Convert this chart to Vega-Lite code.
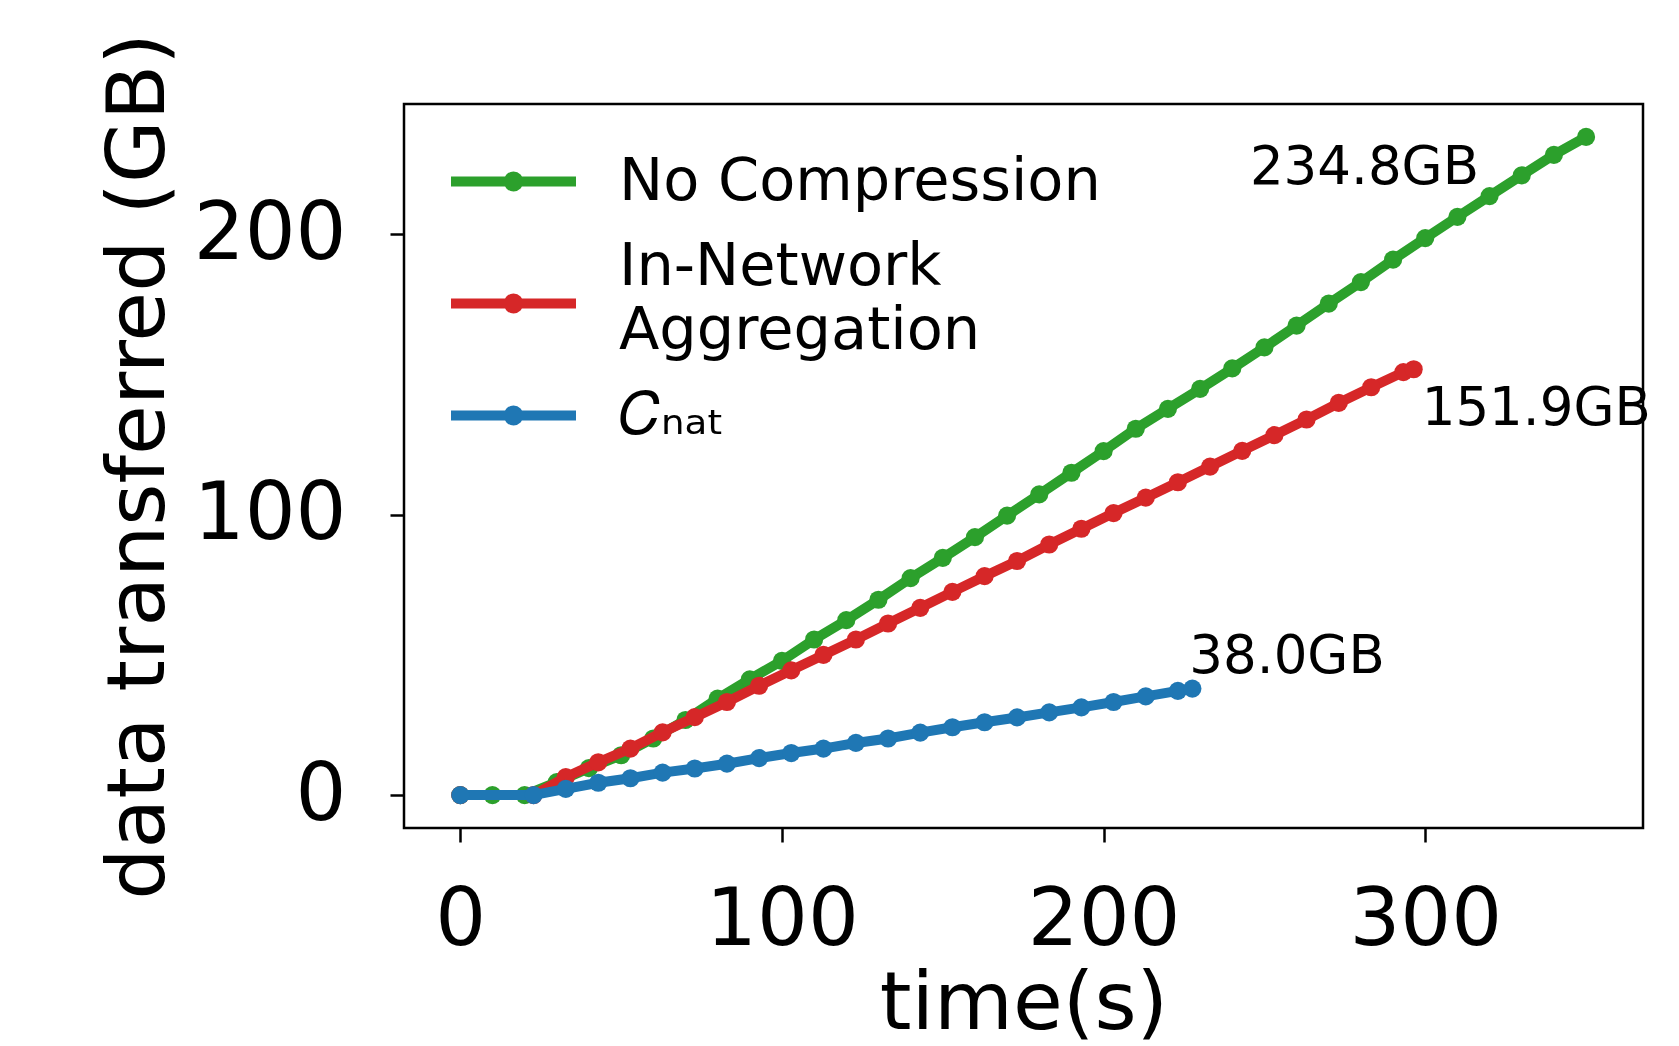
{
  "$schema": "https://vega.github.io/schema/vega-lite/v6.json",
  "width": 1239,
  "height": 724,
  "autosize": {"type": "none"},
  "padding": {"left": 404, "top": 104, "right": 36, "bottom": 218},
  "background": "white",
  "config": {
    "font": "DejaVu Sans",
    "view": {"stroke": "black", "strokeWidth": 2.5},
    "axis": {
      "grid": false,
      "domain": false,
      "tickColor": "black",
      "tickWidth": 2.5,
      "tickSize": 14,
      "labelFont": "DejaVu Sans",
      "labelFontSize": 80,
      "labelColor": "black",
      "labelPadding": 39,
      "titleFont": "DejaVu Sans",
      "titleFontSize": 81,
      "titleFontWeight": "normal",
      "titleColor": "black"
    }
  },
  "datasets": {
    "series": [
      {"series": "No Compression", "t": 0, "v": 0},
      {"series": "No Compression", "t": 10, "v": 0},
      {"series": "No Compression", "t": 20, "v": 0},
      {"series": "No Compression", "t": 30, "v": 4.6},
      {"series": "No Compression", "t": 40, "v": 9.6},
      {"series": "No Compression", "t": 50, "v": 14.2},
      {"series": "No Compression", "t": 60, "v": 20.2},
      {"series": "No Compression", "t": 70, "v": 26.8},
      {"series": "No Compression", "t": 80, "v": 34.4},
      {"series": "No Compression", "t": 90, "v": 41.3},
      {"series": "No Compression", "t": 100, "v": 47.9},
      {"series": "No Compression", "t": 110, "v": 55.5},
      {"series": "No Compression", "t": 120, "v": 62.4},
      {"series": "No Compression", "t": 130, "v": 69.7},
      {"series": "No Compression", "t": 140, "v": 77.4},
      {"series": "No Compression", "t": 150, "v": 84.6},
      {"series": "No Compression", "t": 160, "v": 92.0},
      {"series": "No Compression", "t": 170, "v": 99.7},
      {"series": "No Compression", "t": 180, "v": 107.3},
      {"series": "No Compression", "t": 190, "v": 115.0},
      {"series": "No Compression", "t": 200, "v": 122.7},
      {"series": "No Compression", "t": 210, "v": 130.7},
      {"series": "No Compression", "t": 220, "v": 137.8},
      {"series": "No Compression", "t": 230, "v": 144.9},
      {"series": "No Compression", "t": 240, "v": 152.2},
      {"series": "No Compression", "t": 250, "v": 159.7},
      {"series": "No Compression", "t": 260, "v": 167.5},
      {"series": "No Compression", "t": 270, "v": 175.3},
      {"series": "No Compression", "t": 280, "v": 183.0},
      {"series": "No Compression", "t": 290, "v": 191.0},
      {"series": "No Compression", "t": 300, "v": 198.7},
      {"series": "No Compression", "t": 310, "v": 206.3},
      {"series": "No Compression", "t": 320, "v": 213.7},
      {"series": "No Compression", "t": 330, "v": 221.1},
      {"series": "No Compression", "t": 340, "v": 228.4},
      {"series": "No Compression", "t": 350, "v": 234.8},
      {"series": "In-Network Aggregation", "t": 0, "v": 0},
      {"series": "In-Network Aggregation", "t": 22.8, "v": 0},
      {"series": "In-Network Aggregation", "t": 32.8, "v": 6.4},
      {"series": "In-Network Aggregation", "t": 42.9, "v": 11.7},
      {"series": "In-Network Aggregation", "t": 52.9, "v": 16.6},
      {"series": "In-Network Aggregation", "t": 62.9, "v": 22.4},
      {"series": "In-Network Aggregation", "t": 72.9, "v": 27.8},
      {"series": "In-Network Aggregation", "t": 82.9, "v": 33.2},
      {"series": "In-Network Aggregation", "t": 92.9, "v": 39.0},
      {"series": "In-Network Aggregation", "t": 102.9, "v": 44.5},
      {"series": "In-Network Aggregation", "t": 112.9, "v": 50.0},
      {"series": "In-Network Aggregation", "t": 123.0, "v": 55.5},
      {"series": "In-Network Aggregation", "t": 133.0, "v": 61.2},
      {"series": "In-Network Aggregation", "t": 143.0, "v": 66.8},
      {"series": "In-Network Aggregation", "t": 153.0, "v": 72.5},
      {"series": "In-Network Aggregation", "t": 163.0, "v": 78.1},
      {"series": "In-Network Aggregation", "t": 173.1, "v": 83.5},
      {"series": "In-Network Aggregation", "t": 183.1, "v": 89.4},
      {"series": "In-Network Aggregation", "t": 193.1, "v": 95.0},
      {"series": "In-Network Aggregation", "t": 203.1, "v": 100.6},
      {"series": "In-Network Aggregation", "t": 213.1, "v": 106.1},
      {"series": "In-Network Aggregation", "t": 223.1, "v": 111.6},
      {"series": "In-Network Aggregation", "t": 233.1, "v": 117.2},
      {"series": "In-Network Aggregation", "t": 243.1, "v": 122.8},
      {"series": "In-Network Aggregation", "t": 253.1, "v": 128.4},
      {"series": "In-Network Aggregation", "t": 263.1, "v": 134.0},
      {"series": "In-Network Aggregation", "t": 273.1, "v": 139.9},
      {"series": "In-Network Aggregation", "t": 283.2, "v": 145.5},
      {"series": "In-Network Aggregation", "t": 293.2, "v": 150.9},
      {"series": "In-Network Aggregation", "t": 296.4, "v": 151.9},
      {"series": "𝐶ₙₐₜ", "t": 0, "v": 0},
      {"series": "𝐶ₙₐₜ", "t": 22.8, "v": 0},
      {"series": "𝐶ₙₐₜ", "t": 32.8, "v": 2.2},
      {"series": "𝐶ₙₐₜ", "t": 42.9, "v": 4.4},
      {"series": "𝐶ₙₐₜ", "t": 52.9, "v": 6.0},
      {"series": "𝐶ₙₐₜ", "t": 62.9, "v": 8.0},
      {"series": "𝐶ₙₐₜ", "t": 72.9, "v": 9.5},
      {"series": "𝐶ₙₐₜ", "t": 82.9, "v": 11.2},
      {"series": "𝐶ₙₐₜ", "t": 92.9, "v": 13.2},
      {"series": "𝐶ₙₐₜ", "t": 102.9, "v": 15.0},
      {"series": "𝐶ₙₐₜ", "t": 112.9, "v": 16.6},
      {"series": "𝐶ₙₐₜ", "t": 123.0, "v": 18.6},
      {"series": "𝐶ₙₐₜ", "t": 133.0, "v": 20.2},
      {"series": "𝐶ₙₐₜ", "t": 143.0, "v": 22.3},
      {"series": "𝐶ₙₐₜ", "t": 153.0, "v": 24.2},
      {"series": "𝐶ₙₐₜ", "t": 163.0, "v": 26.0},
      {"series": "𝐶ₙₐₜ", "t": 173.1, "v": 27.7},
      {"series": "𝐶ₙₐₜ", "t": 183.1, "v": 29.5},
      {"series": "𝐶ₙₐₜ", "t": 193.1, "v": 31.3},
      {"series": "𝐶ₙₐₜ", "t": 203.1, "v": 33.2},
      {"series": "𝐶ₙₐₜ", "t": 213.1, "v": 35.2},
      {"series": "𝐶ₙₐₜ", "t": 223.1, "v": 37.2},
      {"series": "𝐶ₙₐₜ", "t": 227.6, "v": 38.0}
    ],
    "ends": [
      {"series": "No Compression", "t": 350, "v": 234.8, "label": "234.8GB"},
      {"series": "In-Network Aggregation", "t": 296.4, "v": 151.9, "label": "151.9GB"},
      {"series": "𝐶ₙₐₜ", "t": 227.6, "v": 38.0, "label": "38.0GB"}
    ]
  },
  "encoding": {
    "x": {
      "field": "t",
      "type": "quantitative",
      "scale": {"domain": [-17.5, 367.7], "nice": false, "zero": false},
      "axis": {"values": [0, 100, 200, 300], "title": "time(s)", "titleY": 200, "titleBaseline": "alphabetic"}
    },
    "y": {
      "field": "v",
      "type": "quantitative",
      "scale": {"domain": [-11.74, 246.54], "nice": false, "zero": false},
      "axis": {"values": [0, 100, 200], "labelPadding": 44, "title": "data transferred (GB)", "titleX": -241, "titleY": 362, "titleBaseline": "alphabetic", "titleAngle": -90}
    },
    "color": {
      "field": "series",
      "type": "nominal",
      "scale": {"domain": ["No Compression", "In-Network Aggregation", "𝐶ₙₐₜ"], "range": ["#2ca02c", "#d62728", "#1f77b4"]},
      "legend": {
        "title": null,
        "orient": "none",
        "legendX": 80,
        "legendY": 48,
        "padding": 0,
        "symbolType": "M-6.25,0L6.25,0M-0.5,0A0.5,0.5,0,1,1,0.5,0A0.5,0.5,0,1,1,-0.5,0Z",
        "symbolSize": 400,
        "symbolStrokeWidth": 10,
        "labelFont": "DejaVu Sans",
        "labelFontSize": 59,
        "labelColor": "black",
        "labelOffset": 76,
        "labelLimit": 0,
        "rowPadding": 25,
        "labelExpr": "datum.value == 'In-Network Aggregation' ? ['In-Network', 'Aggregation'] : datum.value",
        "encode": {
          "symbols": {"update": {"fill": {"scale": "color", "field": "value"}, "stroke": {"scale": "color", "field": "value"}, "opacity": {"value": 1}}},
          "labels": {"update": {"lineHeight": {"value": 64}, "dy": {"signal": "datum.value == 'In-Network Aggregation' ? -37 : 0"}}}
        }
      }
    }
  },
  "layer": [
    {
      "data": {"name": "series"},
      "transform": [{"filter": {"field": "series", "equal": "No Compression"}}],
      "mark": {"type": "line", "strokeWidth": 10, "point": {"filled": true, "size": 330, "opacity": 1}}
    },
    {
      "data": {"name": "series"},
      "transform": [{"filter": {"field": "series", "equal": "In-Network Aggregation"}}],
      "mark": {"type": "line", "strokeWidth": 10, "point": {"filled": true, "size": 330, "opacity": 1}}
    },
    {
      "data": {"name": "series"},
      "transform": [{"filter": {"field": "series", "equal": "𝐶ₙₐₜ"}}],
      "mark": {"type": "line", "strokeWidth": 10, "point": {"filled": true, "size": 330, "opacity": 1}}
    },
    {
      "data": {"name": "ends"},
      "transform": [{"filter": {"field": "series", "equal": "No Compression"}}],
      "mark": {"type": "text", "align": "right", "baseline": "alphabetic", "dx": -107, "dy": 47, "fontSize": 53, "font": "DejaVu Sans"},
      "encoding": {"text": {"field": "label"}, "color": {"value": "black"}}
    },
    {
      "data": {"name": "ends"},
      "transform": [{"filter": {"field": "series", "equal": "In-Network Aggregation"}}],
      "mark": {"type": "text", "align": "left", "baseline": "alphabetic", "dx": 8, "dy": 56, "fontSize": 53, "font": "DejaVu Sans"},
      "encoding": {"text": {"field": "label"}, "color": {"value": "black"}}
    },
    {
      "data": {"name": "ends"},
      "transform": [{"filter": {"field": "series", "equal": "𝐶ₙₐₜ"}}],
      "mark": {"type": "text", "align": "left", "baseline": "alphabetic", "dx": -3, "dy": -16, "fontSize": 53, "font": "DejaVu Sans"},
      "encoding": {"text": {"field": "label"}, "color": {"value": "black"}}
    }
  ]
}
